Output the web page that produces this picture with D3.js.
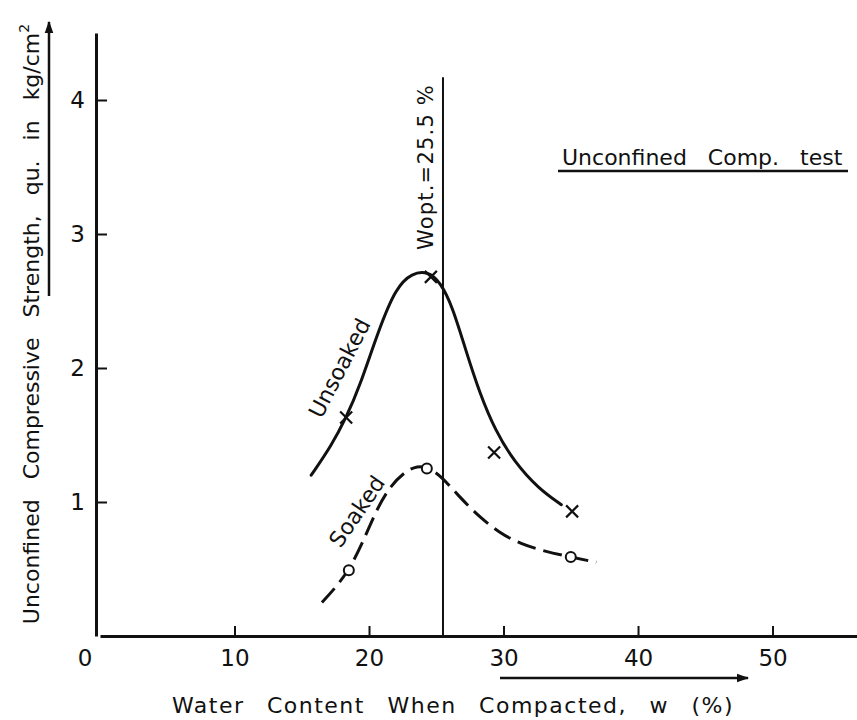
<!DOCTYPE html>
<html>
<head>
<meta charset="utf-8">
<script src="https://cdn.jsdelivr.net/npm/d3@7"></script>
<style>
  html, body { margin: 0; padding: 0; background: #fff; }
  svg { display: block; }
  text { font-family: "DejaVu Sans", "Noto Sans", sans-serif; fill: #111; }
</style>
</head>
<body>
<script>
// Axis ticks
const xTicks = [10, 20, 30, 40, 50];
const yTicks = [1, 2, 3, 4];

// Optimum water content (%)
const wOpt = 25.5;

// Measured test results [water content %, qu kg/cm2]
const unsoakedTests = [[18.3, 1.63], [24.6, 2.68], [29.3, 1.37], [35.1, 0.93]];
const soakedTests = [[18.5, 0.49], [24.3, 1.25], [35.0, 0.59]];

// Hand-drawn fitted curves through the results
const unsoakedCurve = [
  [15.7, 1.20], [17.2, 1.42], [18.3, 1.63], [19.3, 1.86], [20.7, 2.28], [22.0, 2.60],
  [23.2, 2.71], [24.4, 2.72], [25.3, 2.64], [26.2, 2.46], [27.2, 2.13], [28.2, 1.82],
  [29.4, 1.53], [30.8, 1.30], [32.6, 1.10], [34.3, 0.98]
];
const soakedCurve = [
  [16.5, 0.25], [17.5, 0.36], [18.5, 0.49], [19.5, 0.69], [20.5, 0.93], [21.5, 1.11], [22.7, 1.23],
  [23.6, 1.27], [24.4, 1.26], [25.4, 1.19], [26.7, 1.04], [28.2, 0.89], [29.7, 0.77], [31.2, 0.69],
  [33.1, 0.63], [35.0, 0.59], [36.9, 0.55]
];

const W = 857, H = 720;
const svg = d3.select("body").append("svg").attr("width", W).attr("height", H);

const x = d3.scaleLinear().domain([0, 56.28]).range([100, 857]);
const y = d3.scaleLinear().domain([0, 4.5]).range([636, 33]);

const ink = "#111";

// X axis: ticks point up into the plot
const gx = svg.append("g")
  .attr("transform", `translate(0,${y(0)})`)
  .call(d3.axisBottom(x).tickValues(xTicks).tickSize(-10).tickSizeOuter(0).tickPadding(14).tickFormat(d3.format("d")));
gx.select(".domain").attr("stroke", ink).attr("stroke-width", 3);
gx.selectAll(".tick line").attr("stroke", ink).attr("stroke-width", 2);
gx.selectAll(".tick text").attr("font-size", 23).attr("fill", ink);

// Y axis: ticks point right into the plot
const gy = svg.append("g")
  .attr("transform", `translate(${x(0) - 4},0)`)
  .call(d3.axisLeft(y).tickValues(yTicks).tickSize(-11).tickSizeOuter(0).tickPadding(11).tickFormat(d3.format("d")));
gy.select(".domain").attr("stroke", ink).attr("stroke-width", 3);
gy.selectAll(".tick line").attr("stroke", ink).attr("stroke-width", 2);
gy.selectAll(".tick text").attr("font-size", 23).attr("fill", ink);

// Origin label
svg.append("text").attr("x", x(0) - 15).attr("y", y(0) + 30)
  .attr("text-anchor", "middle").attr("font-size", 23).text("0");

// Optimum water content line
svg.append("line")
  .attr("x1", x(wOpt)).attr("x2", x(wOpt))
  .attr("y1", y(4.17)).attr("y2", y(0))
  .attr("stroke", ink).attr("stroke-width", 2);
svg.append("text")
  .attr("transform", `translate(${x(wOpt) - 10},${y(3.5)}) rotate(-90)`)
  .attr("text-anchor", "middle").attr("font-size", 21).attr("letter-spacing", 1.2)
  .text("Wopt.=25.5 %");

// Curves
const line = d3.line().x(d => x(d[0])).y(d => y(d[1])).curve(d3.curveBasis);
svg.append("path").datum(unsoakedCurve).attr("d", line)
  .attr("fill", "none").attr("stroke", ink).attr("stroke-width", 3).attr("stroke-linecap", "round");
svg.append("path").datum(soakedCurve).attr("d", line)
  .attr("fill", "none").attr("stroke", ink).attr("stroke-width", 3)
  .attr("stroke-dasharray", "19 8");

// Unsoaked results: crosses
const cs = 6;
svg.append("g").selectAll("path").data(unsoakedTests).join("path")
  .attr("d", d => {
    const px = x(d[0]), py = y(d[1]);
    return `M${px - cs},${py - cs}L${px + cs},${py + cs}M${px - cs},${py + cs}L${px + cs},${py - cs}`;
  })
  .attr("stroke", ink).attr("stroke-width", 2.2).attr("fill", "none");

// Soaked results: open circles
svg.append("g").selectAll("circle").data(soakedTests).join("circle")
  .attr("cx", d => x(d[0])).attr("cy", d => y(d[1])).attr("r", 5)
  .attr("fill", "#fff").attr("stroke", ink).attr("stroke-width", 2);

// Curve labels
svg.append("text")
  .attr("transform", `translate(${x(17.8)},${y(2.0)}) rotate(-62.6)`)
  .attr("text-anchor", "middle").attr("dy", "0.35em").attr("font-size", 22)
  .text("Unsoaked");
svg.append("text")
  .attr("transform", `translate(${x(19.1)},${y(0.93)}) rotate(-55.6)`)
  .attr("text-anchor", "middle").attr("dy", "0.35em").attr("font-size", 22)
  .text("Soaked");

// Test title with underline
svg.append("text").attr("x", 562).attr("y", 165).attr("font-size", 22)
  .attr("word-spacing", 14).text("Unconfined Comp. test");
svg.append("line").attr("x1", 558).attr("x2", 848).attr("y1", 171).attr("y2", 171)
  .attr("stroke", ink).attr("stroke-width", 2.5);

// Y axis title
const yt = svg.append("text")
  .attr("transform", "translate(39,324) rotate(-90)")
  .attr("text-anchor", "middle").attr("font-size", 22).attr("word-spacing", 13);
yt.append("tspan").text("Unconfined Compressive Strength, qu. in kg/cm");
yt.append("tspan").attr("font-size", 14).attr("dy", "-0.7em").text("2");

// Arrow beside the Y title
const defs = svg.append("defs");
defs.append("marker").attr("id", "arrow").attr("viewBox", "0 0 10 10")
  .attr("refX", 9).attr("refY", 5).attr("markerWidth", 5).attr("markerHeight", 5)
  .attr("orient", "auto").attr("markerUnits", "strokeWidth")
  .append("path").attr("d", "M0,1.5L10,5L0,8.5Z").attr("fill", ink);
svg.append("line").attr("x1", 49).attr("x2", 49).attr("y1", 296).attr("y2", 22)
  .attr("stroke", ink).attr("stroke-width", 2.5).attr("marker-end", "url(#arrow)");

// X axis title with arrow
svg.append("line").attr("x1", 500).attr("x2", 748).attr("y1", 678).attr("y2", 678)
  .attr("stroke", ink).attr("stroke-width", 2.5).attr("marker-end", "url(#arrow)");
svg.append("text").attr("x", 453).attr("y", 713).attr("text-anchor", "middle")
  .attr("font-size", 22).attr("letter-spacing", 1.5).attr("word-spacing", 14)
  .text("Water Content When Compacted, w (%)");
</script>
</body>
</html>
